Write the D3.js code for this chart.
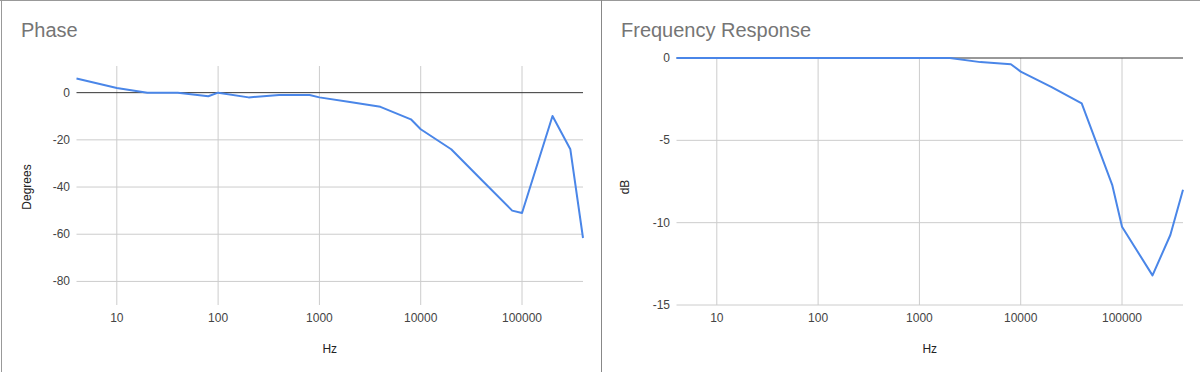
<!DOCTYPE html>
<html>
<head>
<meta charset="utf-8">
<script src="https://cdn.jsdelivr.net/npm/d3@7"></script>
<style>
  body { margin: 0; background: #fff; }
  svg { display: block; font-family: "Liberation Sans", Arial, sans-serif; }
</style>
</head>
<body>
<svg id="chart" width="1200" height="372"></svg>
<script>
// frequencies shared by both series
const freqHz = [4, 10, 20, 40, 80, 100, 200, 400, 800, 1000, 2000, 4000, 8000, 10000,
  20000, 40000, 80000, 100000, 200000, 300000, 400000];
const phaseDeg = [6, 2, 0, 0, -1.5, 0, -2, -1, -1, -2, -4, -6, -11.3, -15.5,
  -24, -37, -50, -51, -9.9, -24, -61.6];
const responseDb = [0, 0, 0, 0, 0, 0, 0, 0, 0, 0, 0, -0.25, -0.38, -0.83,
  -1.75, -2.75, -7.7, -10.25, -13.2, -10.75, -8.0];
const xTicks = [10, 100, 1000, 10000, 100000];
const phaseTicks = [0, -20, -40, -60, -80];
const dbTicks = [0, -5, -10, -15];

const svg = d3.select('#chart');

function drawPanel(opts) {
  const g = svg.append('g').attr('transform', `translate(${opts.left}, 0)`);
  const x = d3.scaleLog().domain([4, 400000]).range([76.5, 583]);
  const y = d3.scaleLinear().domain(opts.yDomain).range([305, opts.top]);

  g.append('text')
    .attr('x', 21).attr('y', 37)
    .attr('fill', '#757575').attr('font-size', 20)
    .text(opts.title);

  // vertical grid
  g.selectAll('.vgrid').data(xTicks).enter().append('line')
    .attr('x1', d => x(d)).attr('x2', d => x(d))
    .attr('y1', opts.top).attr('y2', 305)
    .attr('stroke', '#ccc');

  // horizontal grid (zero gets the dark baseline)
  g.selectAll('.hgrid').data(opts.yTicks.filter(d => d !== 0)).enter().append('line')
    .attr('x1', x.range()[0]).attr('x2', x.range()[1])
    .attr('y1', d => y(d)).attr('y2', d => y(d))
    .attr('stroke', '#ccc');

  g.selectAll('.xlab').data(xTicks).enter().append('text')
    .attr('x', d => x(d)).attr('y', 322)
    .attr('text-anchor', 'middle')
    .attr('font-size', 12).attr('fill', '#444')
    .text(d => d);

  g.selectAll('.ylab').data(opts.yTicks).enter().append('text')
    .attr('x', 70).attr('y', d => y(d) + 4)
    .attr('text-anchor', 'end')
    .attr('font-size', 12).attr('fill', '#444')
    .text(d => d);

  g.append('text')
    .attr('x', (x.range()[0] + x.range()[1]) / 2).attr('y', 353)
    .attr('text-anchor', 'middle')
    .attr('font-size', 12).attr('fill', '#222')
    .text('Hz');

  g.append('text')
    .attr('transform', `translate(${opts.yLabelX}, 187) rotate(-90)`)
    .attr('text-anchor', 'middle')
    .attr('font-size', 12).attr('fill', '#222')
    .text(opts.yLabel);

  g.append('line')
    .attr('x1', x.range()[0]).attr('x2', x.range()[1])
    .attr('y1', y(0)).attr('y2', y(0))
    .attr('stroke', '#333');

  const line = d3.line()
    .x((d, i) => x(freqHz[i]))
    .y(d => y(d));

  g.append('path')
    .datum(opts.values)
    .attr('d', line)
    .attr('fill', 'none')
    .attr('stroke', '#4a86e8')
    .attr('stroke-width', 2)
    .attr('stroke-linejoin', 'round');
}

drawPanel({ left: 0, title: 'Phase', yDomain: [-90, 11.3], top: 66,
  yTicks: phaseTicks, yLabel: 'Degrees', yLabelX: 31, values: phaseDeg });
drawPanel({ left: 600, title: 'Frequency Response', yDomain: [-15, 0], top: 58,
  yTicks: dbTicks, yLabel: 'dB', yLabelX: 29, values: responseDb });

// panel borders
svg.append('line').attr('x1', 0).attr('x2', 1200).attr('y1', 0.5).attr('y2', 0.5).attr('stroke', '#999');
svg.append('line').attr('x1', 1.5).attr('x2', 1.5).attr('y1', 0).attr('y2', 372).attr('stroke', '#999');
svg.append('line').attr('x1', 601.5).attr('x2', 601.5).attr('y1', 0).attr('y2', 372).attr('stroke', '#888');
</script>
</body>
</html>
